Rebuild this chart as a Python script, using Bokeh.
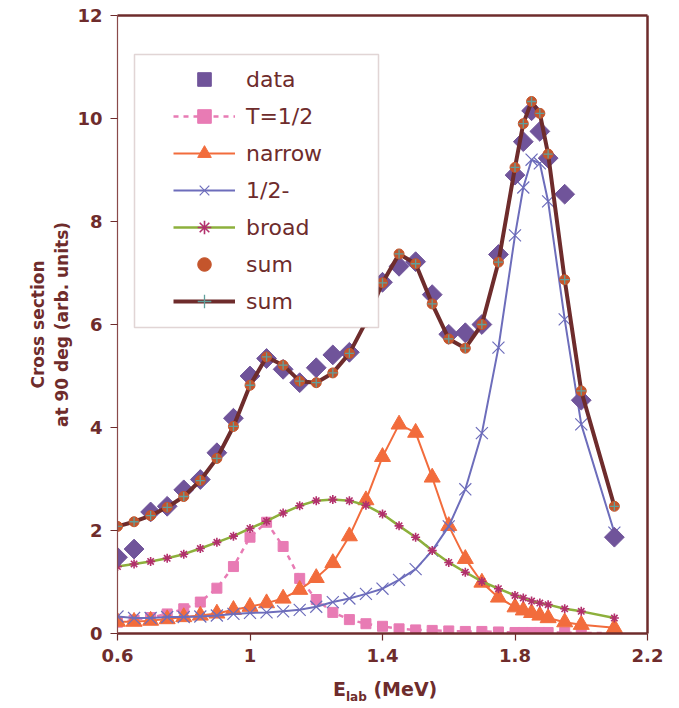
import numpy as np
from bokeh.plotting import figure
from bokeh.layouts import column
from bokeh.models import (Range1d, FixedTicker, LinearAxis, Legend, LegendItem,
                          BoxAnnotation, Div)
from bokeh.embed import file_html
from bokeh.resources import INLINE

# ---------------- data ----------------
energy = [0.6, 0.65, 0.7, 0.75, 0.8, 0.85, 0.9, 0.95, 1.0, 1.05, 1.1, 1.15,
          1.2, 1.25, 1.3, 1.35, 1.4, 1.45, 1.5, 1.55, 1.6, 1.65, 1.7, 1.75,
          1.8, 1.825, 1.85, 1.875, 1.9, 1.95, 2.0, 2.1]

data_vals = [1.48, 1.64, 2.36, 2.47, 2.79, 2.99, 3.51, 4.18, 5.00, 5.34, 5.13, 4.87,
             5.16, 5.41, 5.46, 6.30, 6.82, 7.13, 7.22, 6.58, 5.81, 5.84, 6.00, 7.36,
             8.90, 9.55, 10.15, 9.75, 9.23, 8.53, 4.53, 1.87]

t_half = [0.22, 0.26, 0.31, 0.38, 0.48, 0.61, 0.88, 1.30, 1.87, 2.16, 1.69, 1.07,
          0.66, 0.41, 0.27, 0.19, 0.14, 0.09, 0.07, 0.06, 0.05, 0.04, 0.04, 0.03,
          0.02, 0.02, 0.02, 0.02, 0.02, 0.02, 0.01, 0.01]

narrow = [0.23, 0.23, 0.25, 0.28, 0.32, 0.35, 0.39, 0.46, 0.52, 0.59, 0.68, 0.85,
          1.08, 1.37, 1.89, 2.59, 3.43, 4.06, 3.90, 3.03, 2.09, 1.45, 0.99, 0.70,
          0.51, 0.45, 0.40, 0.35, 0.30, 0.22, 0.17, 0.11]

half_minus = [0.33, 0.30, 0.30, 0.32, 0.32, 0.33, 0.35, 0.38, 0.40, 0.41, 0.43, 0.46,
              0.52, 0.61, 0.68, 0.77, 0.87, 1.04, 1.25, 1.61, 2.08, 2.80, 3.89, 5.55,
              7.73, 8.66, 9.20, 9.13, 8.39, 6.10, 4.06, 1.96]

broad = [1.30, 1.35, 1.40, 1.46, 1.54, 1.65, 1.77, 1.89, 2.04, 2.18, 2.34, 2.48,
         2.58, 2.60, 2.58, 2.49, 2.32, 2.09, 1.87, 1.61, 1.38, 1.19, 1.01, 0.87,
         0.74, 0.69, 0.63, 0.59, 0.56, 0.48, 0.43, 0.30]

sum_vals = [2.08, 2.17, 2.29, 2.45, 2.66, 2.97, 3.40, 4.02, 4.82, 5.37, 5.21, 4.90,
            4.87, 5.06, 5.44, 6.05, 6.81, 7.37, 7.18, 6.40, 5.72, 5.54, 6.00, 7.21,
            9.05, 9.90, 10.33, 10.10, 9.31, 6.87, 4.71, 2.47]

x_ticks = [0.6, 1.0, 1.4, 1.8, 2.2]
x_tick_labels = ["0.6", "1", "1.4", "1.8", "2.2"]
y_ticks = [0, 2, 4, 6, 8, 10, 12]
y_tick_labels = ["0", "2", "4", "6", "8", "10", "12"]

# ---------------- style ----------------
MAROON = "#6e2c2c"
PURPLE = "#70549a"
PINK = "#e87bb4"
ORANGE = "#f26c3c"
BLUE = "#6d6dbb"
GREEN = "#8db03c"
MAGENTA = "#b2306c"
RUST = "#c4552c"
TEAL = "#5f9f9c"
FONT = "DejaVu Sans"

p = figure(width=663, height=680, output_backend="svg", toolbar_location=None,
           x_range=Range1d(0.6, 2.2), y_range=Range1d(0, 12),
           min_border_left=117, min_border_right=16, min_border_top=15,
           min_border_bottom=47)
p.xgrid.visible = False
p.ygrid.visible = False
p.outline_line_color = None
p.background_fill_color = "white"

# axes
xa = p.xaxis[0]
xa.ticker = FixedTicker(ticks=x_ticks)
xa.major_label_overrides = {t: l for t, l in zip(x_ticks, x_tick_labels)}
ya = p.yaxis[0]
ya.ticker = FixedTicker(ticks=y_ticks)
ya.major_label_overrides = {t: l for t, l in zip(y_ticks, y_tick_labels)}
for ax in (xa, ya):
    ax.minor_tick_line_color = None
    ax.major_tick_out = 7
    ax.major_tick_in = 0
    ax.major_tick_line_color = MAROON
    ax.major_tick_line_width = 1.2
    ax.major_label_text_font = FONT
    ax.major_label_text_font_style = "bold"
    ax.major_label_text_font_size = "18px"
    ax.major_label_text_color = MAROON
    ax.major_label_standoff = 8
xa.axis_line_color = MAROON
xa.axis_line_width = 2.5
ya.axis_line_color = "#8a4a4a"
ya.axis_line_width = 1.2
ya.axis_label = "Cross section\nat 90 deg (arb. units)"
ya.axis_label_text_font = FONT
ya.axis_label_text_font_style = "bold"
ya.axis_label_text_font_size = "17px"
ya.axis_label_text_color = MAROON
ya.axis_label_standoff = 2

for loc in ("above", "right"):
    ax2 = LinearAxis(ticker=FixedTicker(ticks=[]), axis_line_color=MAROON,
                     axis_line_width=2.5, major_tick_line_color=None,
                     minor_tick_line_color=None, major_label_text_font_size="0px")
    p.add_layout(ax2, loc)

# series
r_t_line = p.line(energy, t_half, line_color=PINK, line_width=2.5, line_dash="5 5")
r_t_pts = p.scatter(energy, t_half, marker="square", size=10, fill_color=PINK, line_color=PINK)

r_n_line = p.line(energy, narrow, line_color=ORANGE, line_width=2)
r_n_pts = p.scatter(energy, narrow, marker="triangle", size=16, fill_color=ORANGE, line_color=ORANGE)

r_h_line = p.line(energy, half_minus, line_color=BLUE, line_width=2)
r_h_pts = p.scatter(energy, half_minus, marker="x", size=17, line_color=BLUE, line_width=1.2)

r_b_line = p.line(energy, broad, line_color=GREEN, line_width=2.5)
r_b_pts = p.scatter(energy, broad, marker="asterisk", size=9, line_color=MAGENTA, line_width=1.6)

r_data = p.scatter(energy, data_vals, marker="square", angle=np.pi / 4, size=14,
                   fill_color=PURPLE, line_color=PURPLE)

r_s_line = p.line(energy, sum_vals, line_color=MAROON, line_width=4)
r_s_circ = p.scatter(energy, sum_vals, marker="circle", size=10, fill_color=RUST, line_color=RUST)
r_s_cross = p.scatter(energy, sum_vals, marker="cross", size=9, line_color=TEAL, line_width=1.3)

# legend box + legend
box = BoxAnnotation(left=17, right=261, top=579, bottom=306,
                    left_units="screen", right_units="screen",
                    top_units="screen", bottom_units="screen",
                    fill_color="white", fill_alpha=1.0,
                    line_color="#9a7373", line_width=1.5)
p.add_layout(box)

legend = Legend(items=[
    LegendItem(label="data", renderers=[r_data]),
    LegendItem(label="T=1/2", renderers=[r_t_line, r_t_pts]),
    LegendItem(label="narrow", renderers=[r_n_line, r_n_pts]),
    LegendItem(label="1/2-", renderers=[r_h_line, r_h_pts]),
    LegendItem(label="broad", renderers=[r_b_line, r_b_pts]),
    LegendItem(label="sum", renderers=[r_s_circ]),
    LegendItem(label="sum", renderers=[r_s_line, r_s_cross]),
], location=(56, 315), padding=0, margin=0, spacing=3,
   glyph_width=62, glyph_height=34, label_height=34, label_standoff=11,
   label_text_font=FONT, label_text_font_size="22px", label_text_color=MAROON,
   border_line_alpha=0, background_fill_alpha=0)
p.add_layout(legend)

# x axis title (with subscript) as HTML text below the plot
xtitle = Div(
    text='E<span style="font-size:12px; position:relative; top:5px;">lab</span> (MeV)',
    width=663, height=24, margin=0,
    styles={"font-family": "DejaVu Sans", "font-weight": "bold", "font-size": "19px",
            "color": MAROON, "padding-left": "333px", "line-height": "19px",
            "box-sizing": "border-box", "white-space": "nowrap"})

layout = column(p, xtitle, spacing=0)
open("out.html", "w").write(file_html(layout, INLINE))
